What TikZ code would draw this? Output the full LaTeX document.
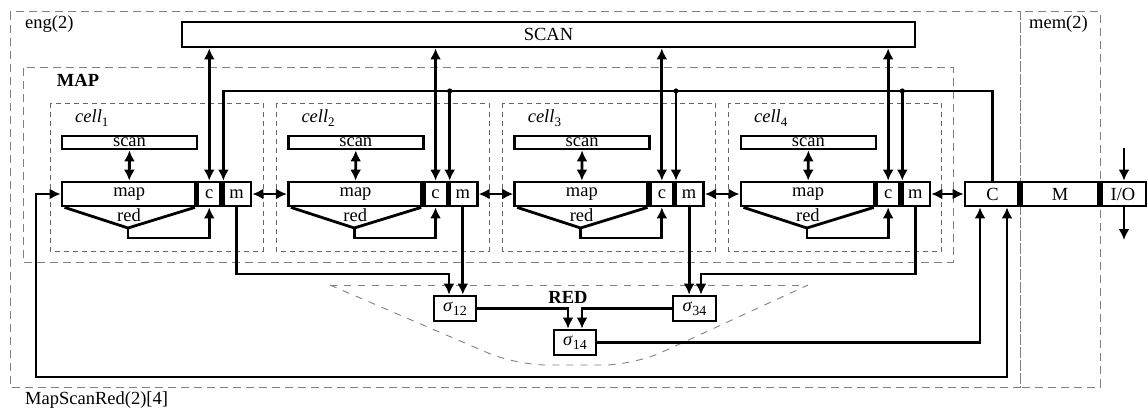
\documentclass[tikz,border=0pt]{standalone}
\usepackage{fontspec}
\setmainfont{Liberation Serif}
\usetikzlibrary{arrows.meta,calc}
\newcommand{\sigsub}[1]{\textit{σ}\raisebox{-4pt}{\fontsize{14}{14}\selectfont #1}}
\newcommand{\cellsub}[1]{\textit{cell}\raisebox{-4pt}{\fontsize{13}{13}\selectfont #1}}
\begin{document}
\begin{tikzpicture}[x=1pt,y=-1pt,
  every node/.style={font=\fontsize{18.5}{22}\selectfont},
  blk/.style={draw, line width=2.8pt, fill=white, inner sep=0pt, anchor=center},
  lbl/.style={inner sep=0pt},
  outerdash/.style={draw=black!50, line width=1pt, dash pattern=on 8pt off 5pt},
  celldash/.style={draw=black!60, line width=0.9pt, dash pattern=on 5pt off 4pt},
  reddash/.style={draw=black!50, line width=0.9pt, dash pattern=on 7pt off 7pt},
  conn/.style={line width=2.8pt, draw=black},
  arr/.style={conn, -{Latex[length=11pt,width=11pt]}},
  dbl/.style={conn, {Latex[length=11pt,width=11pt]}-{Latex[length=11pt,width=11pt]}},
  bar/.style={fill=black}
]
\useasboundingbox (0,0) rectangle (1148,409);
% dashed frames
\draw[outerdash] (10,12) rectangle (1020,387);
\draw[outerdash] (1020,12) rectangle (1100,387);
\draw[outerdash] (23,68) rectangle (953,262);
\node[lbl, anchor=west] (eng) at (25,24) {eng(2)};
\node[lbl, anchor=west] (mem) at (1029,24) {mem(2)};
\node[lbl, anchor=west] (title) at (25,400) {MapScanRed(2)[4]};
\node[lbl, font=\fontsize{18.5}{22}\selectfont\bfseries] (MAPl) at (78,80) {MAP};
% RED region
\draw[reddash] (330,285) -- (808,285);
\draw[reddash] (330,285) [rounded corners=30pt] -- (516,365) -- (634,365) -- (808,285);
\node[lbl, font=\fontsize{18.5}{22}\selectfont\bfseries] (REDl) at (568,297) {RED};
% SCAN
\node[blk, minimum width=733, minimum height=25] (SCAN) at (548.5,34.5) {SCAN};
\coordinate (busy) at (0,91);
% cells
\foreach \i in {1,...,4}{
  \pgfmathsetmacro\dx{(\i-1)*226.3}
  \draw[celldash] (50+\dx,103) rectangle (263+\dx,251);
  \node[lbl, anchor=west] (cl\i) at (75+\dx,118) {\cellsub{\i}};
  \node[blk, minimum width=135, minimum height=13] (scan\i) at (129.5+\dx,142.5) {scan};
  \node[blk, minimum width=134.5, minimum height=24] (map\i) at (129.25+\dx,194) {map};
  \node[blk, minimum width=25.5, minimum height=24] (c\i) at (209.25+\dx,194) {c};
  \node[blk, minimum width=29, minimum height=24] (m\i) at (236.5+\dx,194) {m};
  \fill[bar] (193.8+\dx,180.6) rectangle (199.2+\dx,207.4);
  \fill[bar] (219.3+\dx,180.6) rectangle (224.7+\dx,207.4);
  % red triangle
  \draw[conn] ($(map\i.south west)+(4,0)$) -- (128+\dx,228) coordinate (apex\i) -- ($(map\i.south east)+(-3,0)$);
  \node[lbl] (red\i) at (129+\dx,215) {red};
  \draw[arr] (apex\i) -- ++(0,10) -| (c\i.south);
  % scan <-> map
  \draw[dbl] (scan\i.south) -- (map\i.north);
  % SCAN <-> c
  \draw[dbl] (c\i.north) -- (c\i.north |- SCAN.south);
}
% C M I/O
\node[blk, minimum width=55, minimum height=24] (C) at (992.5,194) {C};
\node[blk, minimum width=80, minimum height=24] (M) at (1060,194) {M};
\node[blk, minimum width=46, minimum height=24] (IO) at (1123,194) {I/O};
\fill[bar] (1017.3,180.6) rectangle (1022.7,207.4);
\fill[bar] (1097.3,180.6) rectangle (1102.7,207.4);
% bus from C
\draw[arr] (C.north) -- (C.north |- busy) -- (c1.north east |- busy) -- (c1.north east);
\foreach \i in {2,3,4}{
  \draw[arr] (c\i.north east |- busy) -- (c\i.north east);
  \fill (c\i.north east |- busy) circle (2.6);
}
% m <-> neighbours
\foreach \i/\j in {1/2,2/3,3/4}{
  \draw[dbl] (m\i.east) -- (map\j.west);
}
\draw[dbl] (m4.east) -- (C.west);
% reduction tree
\node[blk, minimum width=42, minimum height=25] (s12) at (455,308.5) {\sigsub{12}};
\node[blk, minimum width=43, minimum height=25] (s34) at (694.5,308.5) {\sigsub{34}};
\node[blk, minimum width=42, minimum height=25] (s14) at (575,342.5) {\sigsub{14}};
\coordinate (ylow) at (0,274);
\draw[arr] (m1.south) -- (m1.south |- ylow) -| ($(s12.north)+(-6,0)$);
\draw[arr] (m2.south) -- (m2.south |- s12.north);
\draw[arr] (m3.south) -- (m3.south |- s34.north);
\draw[arr] (m4.south) -- (m4.south |- ylow) -| ($(s34.north)+(6.5,0)$);
\draw[arr] (s12.east) -| ($(s14.north)+(-7,0)$);
\draw[arr] (s34.west) -| ($(s14.north)+(7,0)$);
\draw[arr] (s14.east) -| ($(C.south)+(-12.5,0)$);
% feedback loop
\coordinate (loopL) at (36,377);
\draw[dbl] ($(C.south)+(14.5,0)$) |- (loopL) |- (map1.west);
% I/O
\coordinate (ioin) at (1124,148);
\coordinate (ioout) at (1124,240);
\draw[arr] (ioin) -- (ioin |- IO.north);
\draw[arr] (ioout |- IO.south) -- (ioout);
\end{tikzpicture}
\end{document}
